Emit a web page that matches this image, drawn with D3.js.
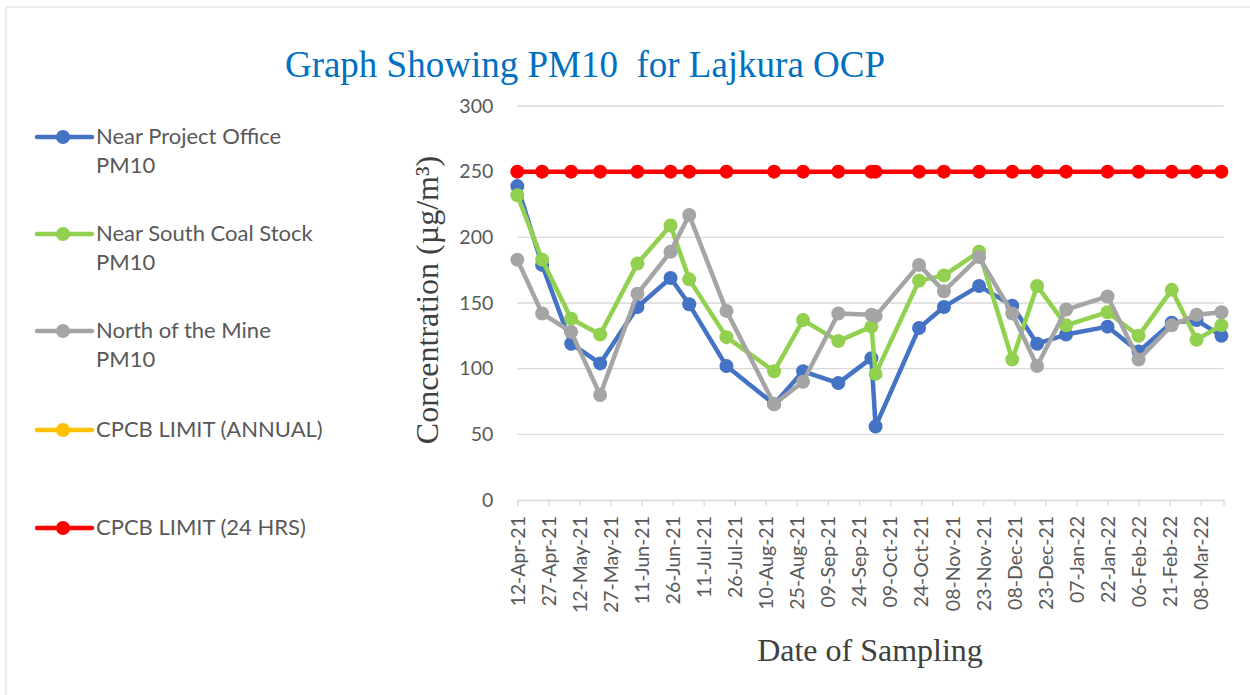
<!DOCTYPE html>
<html>
<head>
<meta charset="utf-8">
<script src="https://cdn.jsdelivr.net/npm/d3@7"></script>
<style>
  html, body { margin: 0; padding: 0; background: #fff; }
  svg { display: block; }
</style>
</head>
<body>
<div id="chart"></div>
<script>
// sampling dates (shared by all series)
const sampleDates = [
  "12-Apr-21", "24-Apr-21", "08-May-21", "22-May-21", "09-Jun-21", "25-Jun-21",
  "04-Jul-21", "22-Jul-21", "14-Aug-21", "28-Aug-21", "14-Sep-21", "30-Sep-21",
  "02-Oct-21", "23-Oct-21", "04-Nov-21", "21-Nov-21", "07-Dec-21", "19-Dec-21",
  "02-Jan-22", "22-Jan-22", "06-Feb-22", "22-Feb-22", "06-Mar-22", "18-Mar-22"
];

const nearProjectOffice = [239, 179, 119, 104, 147, 169, 149, 102, 73, 98, 89, 108,
                           56, 131, 147, 163, 148, 119, 126, 132, 113, 135, 137, 125];
const nearSouthCoalStock = [232, 183, 138, 126, 180, 209, 168, 124, 98, 137, 121, 132,
                            96, 167, 171, 189, 107, 163, 133, 143, 125, 160, 122, 133];
const northOfMine = [183, 142, 128, 80, 157, 189, 217, 144, 73, 90, 142, 141,
                     140, 179, 159, 185, 142, 102, 145, 155, 107, 133, 141, 143];
const cpcbAnnual = [];   // in the legend only, no points plotted
const cpcb24hrs = [250, 250, 250, 250, 250, 250, 250, 250, 250, 250, 250, 250,
                   250, 250, 250, 250, 250, 250, 250, 250, 250, 250, 250, 250];

const xTickLabels = [
  "12-Apr-21", "27-Apr-21", "12-May-21", "27-May-21", "11-Jun-21", "26-Jun-21",
  "11-Jul-21", "26-Jul-21", "10-Aug-21", "25-Aug-21", "09-Sep-21", "24-Sep-21",
  "09-Oct-21", "24-Oct-21", "08-Nov-21", "23-Nov-21", "08-Dec-21", "23-Dec-21",
  "07-Jan-22", "22-Jan-22", "06-Feb-22", "21-Feb-22", "08-Mar-22"
];
const yTicks = [0, 50, 100, 150, 200, 250, 300];

const seriesNames = ["Near Project Office\nPM10", "Near South Coal Stock\nPM10",
                     "North of the Mine\nPM10", "CPCB LIMIT (ANNUAL)", "CPCB LIMIT (24 HRS)"];
const seriesColors = ["#4472C4", "#92D050", "#A5A5A5", "#FFC000", "#FF0000"];

const W = 1250, H = 695;
const parse = d3.timeParse("%d-%b-%y");
const sans = "Lato, 'Open Sans', sans-serif";
const serif = "'Liberation Serif', 'DejaVu Serif', serif";

const svg = d3.select("#chart").append("svg")
  .attr("width", W).attr("height", H);

// faint page frame
svg.append("path")
  .attr("d", "M6,695 V7 H1250")
  .attr("fill", "none").attr("stroke", "#d9d9d9").attr("stroke-width", 1);

const x = d3.scaleTime()
  .domain([parse("12-Apr-21"), parse("19-Mar-22")])
  .range([517.3, 1223.5]);
const y = d3.scaleLinear().domain([0, 300]).range([500, 106]);

// title
svg.append("text")
  .attr("x", 585).attr("y", 77)
  .attr("text-anchor", "middle")
  .attr("xml:space", "preserve")
  .style("white-space", "pre")
  .style("font-family", serif)
  .style("font-size", "37px")
  .style("fill", "#0070C0")
  .text("Graph Showing PM10  for Lajkura OCP");

// gridlines
svg.append("g")
  .selectAll("line")
  .data(yTicks.filter(d => d > 0))
  .enter().append("line")
    .attr("x1", x.range()[0]).attr("x2", x.range()[1])
    .attr("y1", d => y(d)).attr("y2", d => y(d))
    .attr("stroke", "#d9d9d9").attr("stroke-width", 1.3);

// y axis labels
const yAxis = svg.append("g")
  .attr("transform", `translate(${x.range()[0]},0)`)
  .call(d3.axisLeft(y).tickValues(yTicks).tickSize(0).tickPadding(24));
yAxis.select(".domain").remove();
yAxis.selectAll("text")
  .style("font-family", sans)
  .style("font-size", "19.5px")
  .style("fill", "#595959");

// x axis
const xAxis = svg.append("g")
  .attr("transform", `translate(0,${y(0)})`)
  .call(d3.axisBottom(x)
    .tickValues(xTickLabels.map(parse))
    .tickFormat(d3.timeFormat("%d-%b-%y"))
    .tickSizeInner(6).tickSizeOuter(6));
xAxis.select(".domain").attr("stroke", "#d9d9d9").attr("stroke-width", 1.3);
xAxis.selectAll(".tick line").attr("stroke", "#d9d9d9").attr("stroke-width", 1.3);
xAxis.selectAll("text")
  .attr("transform", "rotate(-90)")
  .attr("x", -16).attr("y", 0).attr("dy", "0.35em")
  .style("text-anchor", "end")
  .style("font-family", sans)
  .style("font-size", "19.5px")
  .style("fill", "#595959");

// axis titles
svg.append("text")
  .attr("transform", "translate(438,300) rotate(-90)")
  .attr("text-anchor", "middle")
  .style("font-family", serif)
  .style("font-size", "32px")
  .style("fill", "#404040")
  .text("Concentration (µg/m³)");

svg.append("text")
  .attr("x", 870).attr("y", 661)
  .attr("text-anchor", "middle")
  .style("font-family", serif)
  .style("font-size", "32px")
  .style("fill", "#404040")
  .text("Date of Sampling");

// series
const allSeries = [nearProjectOffice, nearSouthCoalStock, northOfMine, cpcbAnnual, cpcb24hrs];
const line = d3.line()
  .x(d => x(d.date))
  .y(d => y(d.value));

allSeries.forEach((vals, i) => {
  const pts = vals.map((v, j) => ({ date: parse(sampleDates[j]), value: v }));
  const g = svg.append("g");
  g.append("path")
    .datum(pts)
    .attr("d", line)
    .attr("fill", "none")
    .attr("stroke", seriesColors[i])
    .attr("stroke-width", 4.5)
    .attr("stroke-linejoin", "round");
  g.selectAll("circle")
    .data(pts)
    .enter().append("circle")
      .attr("cx", d => x(d.date))
      .attr("cy", d => y(d.value))
      .attr("r", 7)
      .attr("fill", seriesColors[i]);
});

// legend
const legendY = [137, 234, 331, 430, 528];
seriesNames.forEach((name, i) => {
  const g = svg.append("g").attr("transform", `translate(0,${legendY[i]})`);
  g.append("line")
    .attr("x1", 37).attr("x2", 92)
    .attr("stroke", seriesColors[i]).attr("stroke-width", 4.5)
    .attr("stroke-linecap", "round");
  g.append("circle").attr("cx", 63).attr("r", 7).attr("fill", seriesColors[i]);
  const t = g.append("text")
    .attr("x", 96).attr("y", 7)
    .style("font-family", sans)
    .style("font-size", "22px")
    .style("fill", "#595959");
  name.split("\n").forEach((s, k) => {
    t.append("tspan").attr("x", 96).attr("dy", k ? 29 : 0).text(s);
  });
});
</script>
</body>
</html>
